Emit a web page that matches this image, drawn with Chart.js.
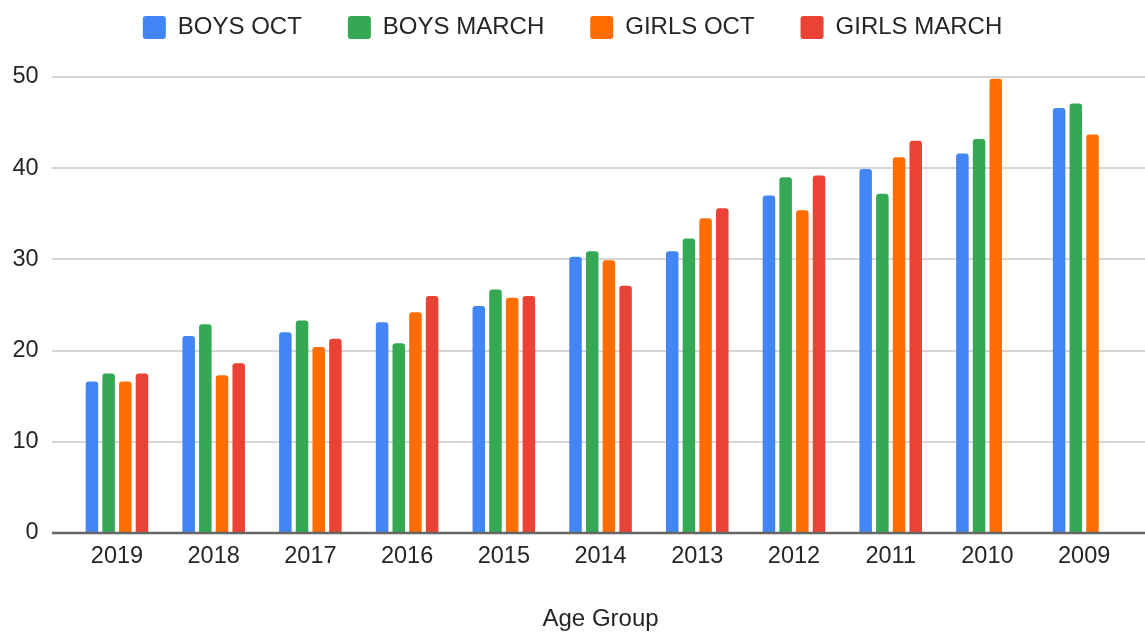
<!DOCTYPE html>
<html>
<head>
<meta charset="utf-8">
<title>Age Group</title>
<script src="https://cdn.jsdelivr.net/npm/chart.js@4.4.1/dist/chart.umd.min.js"></script>
<style>
  html, body { margin: 0; padding: 0; background: #fff; }
  #wrap { width: 1145px; height: 632px; }
</style>
</head>
<body>
<div id="wrap"><canvas id="chart" width="1145" height="632"></canvas></div>
<script>
// Age group bars
const ageGroups = ['2019', '2018', '2017', '2016', '2015', '2014', '2013', '2012', '2011', '2010', '2009'];
const boysOct = [16.6, 21.6, 22.0, 23.1, 24.9, 30.3, 30.9, 37.0, 39.9, 41.6, 46.6];
const boysMarch = [17.5, 22.9, 23.3, 20.8, 26.7, 30.9, 32.3, 39.0, 37.2, 43.2, 47.1];
const girlsOct = [16.6, 17.3, 20.4, 24.2, 25.8, 29.9, 34.5, 35.4, 41.2, 49.8, 43.7];
const girlsMarch = [17.5, 18.6, 21.3, 26.0, 26.0, 27.1, 35.6, 39.2, 43.0, null, null];
const yTicks = [0, 10, 20, 30, 40, 50];

const FONT = "'Liberation Sans', Arial, Helvetica, sans-serif";
const TEXT = '#252525';

function bar(label, data, color) {
  return {
    label: label,
    data: data,
    backgroundColor: color,
    borderWidth: 0,
    borderRadius: { topLeft: 3, topRight: 3, bottomLeft: 0, bottomRight: 0 },
    borderSkipped: 'start',
    categoryPercentage: 0.69,
    barPercentage: 0.75,
  };
}

// gridlines run a bit past the plot on both sides, like the sheet chart
const gridPlugin = {
  id: 'extGrid',
  beforeLayout(chart) {
    const lg = chart.legend;
    if (lg && !lg._tall) {
      const fit = lg.fit;
      lg.fit = function () { fit.call(this); this.height += 27.5; };
      lg._tall = true;
    }
  },
  beforeDatasetsDraw(chart) {
    const y = chart.scales.y;
    const ctx = chart.ctx;
    ctx.save();
    ctx.strokeStyle = '#d6d6d6';
    ctx.lineWidth = 2;
    y.ticks.forEach(t => {
      if (t.value === 0) return;
      const py = Math.round(y.getPixelForValue(t.value));
      ctx.beginPath();
      ctx.moveTo(52, py);
      ctx.lineTo(chart.width, py);
      ctx.stroke();
    });
    ctx.restore();
  },
  afterDatasetsDraw(chart) {
    const y = chart.scales.y;
    const ctx = chart.ctx;
    const py = y.getPixelForValue(0);
    ctx.save();
    ctx.strokeStyle = '#666666';
    ctx.lineWidth = 2.5;
    ctx.beginPath();
    ctx.moveTo(52, py);
    ctx.lineTo(chart.width, py);
    ctx.stroke();
    ctx.restore();
  },
};

new Chart(document.getElementById('chart').getContext('2d'), {
  type: 'bar',
  data: {
    labels: ageGroups,
    datasets: [
      bar('BOYS OCT', boysOct, '#4285F4'),
      bar('BOYS MARCH', boysMarch, '#34A853'),
      bar('GIRLS OCT', girlsOct, '#FF6D01'),
      bar('GIRLS MARCH', girlsMarch, '#EA4335'),
    ],
  },
  options: {
    responsive: false,
    animation: false,
    layout: { padding: { top: -30.5, left: 12.6, right: 12.5, bottom: -2 } },
    plugins: {
      tooltip: { enabled: false },
      legend: {
        position: 'top',
        align: 'center',
        labels: {
          color: TEXT,
          font: { family: FONT, size: 24 },
          boxWidth: 23,
          boxHeight: 23,
          padding: 46,
          useBorderRadius: true,
          borderRadius: 3,
        },
      },
    },
    scales: {
      x: {
        grid: { display: false, drawTicks: false },
        border: { display: false },
        ticks: { color: TEXT, font: { family: FONT, size: 23.5 }, padding: 9, maxRotation: 0 },
        title: {
          display: true,
          text: 'Age Group',
          color: TEXT,
          font: { family: FONT, size: 24 },
          padding: { top: 26, bottom: 0 },
        },
      },
      y: {
        min: yTicks[0],
        max: yTicks[yTicks.length - 1],
        grid: { display: false, drawTicks: false },
        border: { display: false },
        afterFit(scale) { scale.width = 56; },
        afterBuildTicks(scale) { scale.ticks = yTicks.map(v => ({ value: v })); },
        ticks: { color: TEXT, font: { family: FONT, size: 23.5 }, padding: 30 },
      },
    },
  },
  plugins: [gridPlugin],
});
</script>
</body>
</html>
